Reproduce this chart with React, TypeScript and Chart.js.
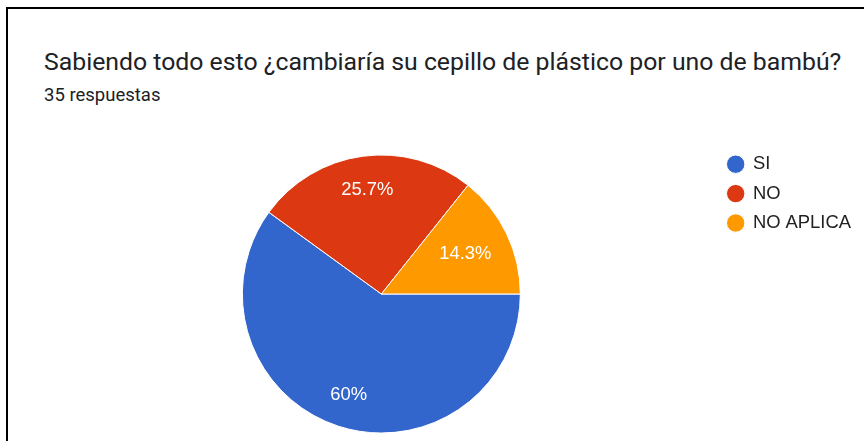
import React, { useEffect, useRef } from "react";
import { Chart, registerables } from "chart.js";

Chart.register(...registerables);

const TITLE = "Sabiendo todo esto ¿cambiaría su cepillo de plástico por uno de bambú?";
const SUBTITLE = "35 respuestas";
const categories = ["SI", "NO", "NO APLICA"];
const counts = [21, 9, 5];
const percentLabels = ["60%", "25.7%", "14.3%"];
const sliceColors = ["#3366cc", "#dc3912", "#ff9900"];

const labelRadiusFractions = [0.76, 0.755, 0.67];

const sliceLabelsPlugin = {
  id: "sliceLabels",
  afterDatasetsDraw(chart: any) {
    const ctx = chart.ctx;
    const meta = chart.getDatasetMeta(0);
    ctx.save();
    ctx.fillStyle = "#ffffff";
    ctx.font = '18.4px "Liberation Sans", Arial, sans-serif';
    ctx.textAlign = "center";
    ctx.textBaseline = "middle";
    meta.data.forEach((arc: any, i: number) => {
      const { x, y, startAngle, endAngle, outerRadius } = arc.getProps(
        ["x", "y", "startAngle", "endAngle", "outerRadius"],
        true
      );
      const mid = (startAngle + endAngle) / 2;
      const r = outerRadius * labelRadiusFractions[i];
      ctx.fillText(percentLabels[i], x + Math.cos(mid) * r, y + Math.sin(mid) * r);
    });
    ctx.restore();
  },
};

export default function App() {
  const canvasRef = useRef<HTMLCanvasElement | null>(null);

  useEffect(() => {
    document.body.style.margin = "0";
    document.body.style.overflow = "hidden";
    const chart = new Chart(canvasRef.current as HTMLCanvasElement, {
      type: "pie",
      data: {
        labels: categories,
        datasets: [
          {
            data: counts,
            backgroundColor: sliceColors,
            borderColor: "#ffffff",
            borderWidth: 1,
            radius: 139,
          } as any,
        ],
      },
      options: {
        animation: false,
        responsive: false,
        rotation: 90,
        layout: { padding: { left: 46, right: 3, top: 1, bottom: 3 } },
        plugins: {
          legend: {
            position: "right",
            align: "start",
            labels: {
              usePointStyle: true,
              pointStyle: "circle",
              boxWidth: 16,
              boxHeight: 13,
              padding: 11,
              color: "#222222",
              font: { family: '"Liberation Sans", Arial, sans-serif', size: 18.4 },
            },
          },
          tooltip: { enabled: false },
        },
      },
      plugins: [sliceLabelsPlugin],
    });
    return () => chart.destroy();
  }, []);

  return (
    <div style={{ position: "relative", width: 864, height: 441, overflow: "hidden", background: "#fff" }}>
      <div
        style={{
          position: "absolute",
          left: 6,
          top: 7,
          right: 0,
          bottom: 0,
          borderLeft: "2px solid #000",
          borderTop: "2px solid #000",
        }}
      />
      <div
        style={{
          position: "absolute",
          left: 44,
          top: 50,
          fontFamily: "Roboto, sans-serif",
          fontSize: 24.8,
          lineHeight: "24.8px",
          color: "#202124",
          whiteSpace: "nowrap",
        }}
      >
        {TITLE}
      </div>
      <div
        style={{
          position: "absolute",
          left: 44,
          top: 86,
          fontFamily: "Roboto, sans-serif",
          fontSize: 18.5,
          lineHeight: "18.5px",
          color: "#202124",
          whiteSpace: "nowrap",
        }}
      >
        {SUBTITLE}
      </div>
      <canvas
        ref={canvasRef}
        width={864}
        height={304}
        style={{ position: "absolute", left: 0, top: 143, width: 864, height: 304 }}
      />
    </div>
  );
}
